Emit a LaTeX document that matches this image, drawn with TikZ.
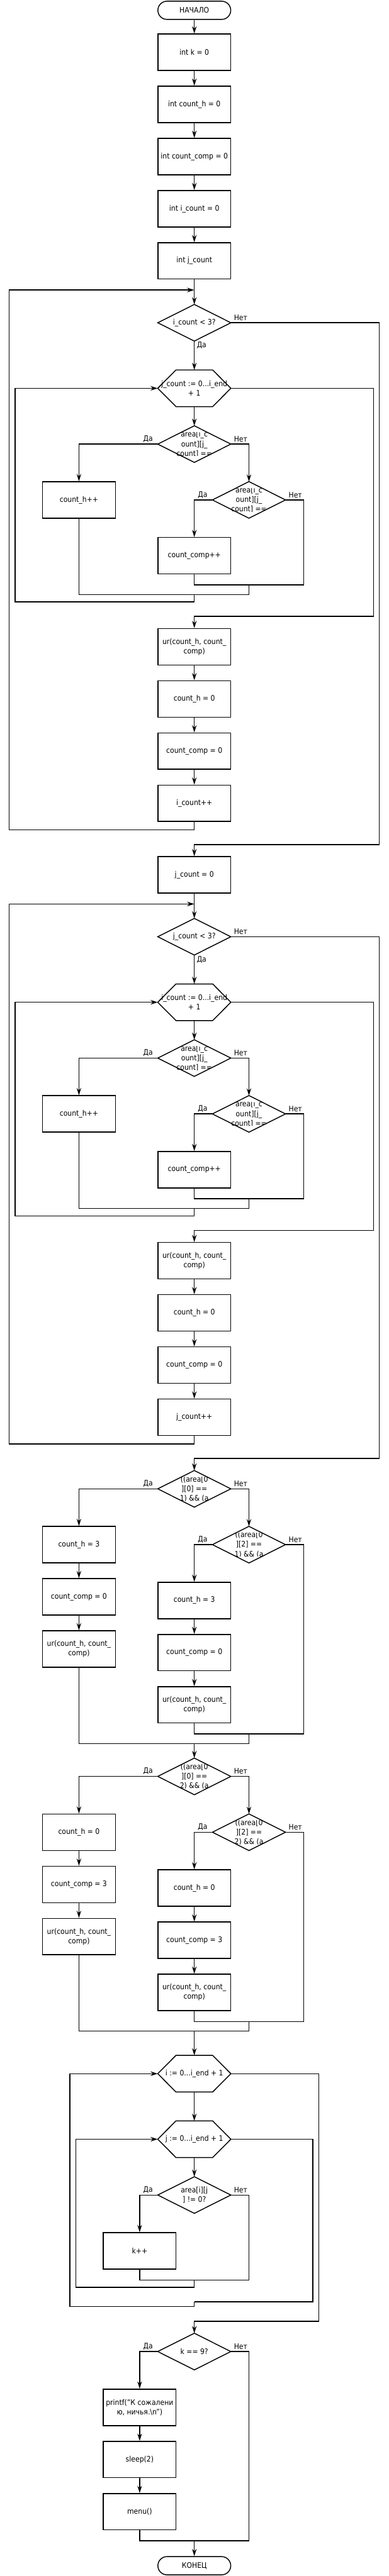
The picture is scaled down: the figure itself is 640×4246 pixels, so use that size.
\documentclass[tikz,border=0pt]{standalone}
\usepackage{fontspec}
\setmainfont{DejaVu Sans Condensed}
\usetikzlibrary{arrows.meta}
\tikzset{
  base/.style={font=\fontsize{12.5}{15.7}\selectfont, text=black},
  box/.style={base, draw, line width=1.5pt, minimum width=120pt, minimum height=60pt, inner sep=0pt, align=center},
  frame/.style={base, minimum width=120pt, minimum height=60pt, inner sep=0pt, align=center},
  term/.style={base, draw, line width=1.5pt, rounded corners=15pt, minimum width=120pt, minimum height=30pt, inner sep=0pt},
  shp/.style={line width=1.5pt},
  con/.style={line width=1.5pt},
  arr/.style={con, -{Stealth[length=12pt,width=7.5pt,inset=4pt]}},
  lbl/.style={base, inner sep=0pt},
}
\newcommand\dshape[1]{\draw[shp] (#1.west)--(#1.north)--(#1.east)--(#1.south)--cycle;}
\newcommand\hshape[1]{\draw[shp] (#1.west)--([xshift=30pt]#1.north west)--([xshift=-30pt]#1.north east)--(#1.east)--([xshift=-30pt]#1.south east)--([xshift=30pt]#1.south west)--cycle;}
\newcommand\cliptext[4]{%
  \begin{scope}
    \clip ([xshift=-48pt,yshift=19.5pt]#1.center) rectangle ([xshift=48pt,yshift=-19.5pt]#1.center);
    \node[lbl,anchor=base] (#1-a) at ([yshift=11.7pt]#1.center) {#2};
    \node[lbl,anchor=base] (#1-b) at ([yshift=-4pt]#1.center) {#3};
    \node[lbl,anchor=base] (#1-c) at ([yshift=-19.7pt]#1.center) {#4};
  \end{scope}}
\newcommand\yn[1]{%
  \node[lbl,anchor=base east] (#1y) at ([xshift=-8pt,yshift=5pt]#1.west) {Да};
  \node[lbl,anchor=base west] (#1n) at ([xshift=5pt,yshift=4pt]#1.east) {Нет};}
\newcommand\ynb[1]{%
  \node[lbl,anchor=base west] (#1y) at ([xshift=4pt,yshift=-11pt]#1.south) {Да};
  \node[lbl,anchor=base west] (#1n) at ([xshift=5pt,yshift=4pt]#1.east) {Нет};}
\begin{document}
\begin{tikzpicture}[x=1pt,y=-1pt]
\useasboundingbox (0,0) rectangle (640,4246);
% ---------- start ----------
\node[term] (start) at (320,17) {НАЧАЛО};
\node[box] (b1) at (320,86) {int k = 0};
\node[box] (b2) at (320,172) {int count\_h = 0};
\node[box] (b3) at (320,258) {int count\_comp = 0};
\node[box] (b4) at (320,344) {int i\_count = 0};
\node[box] (b5) at (320,430) {int j\_count};
\draw[arr] (start.south) -- (b1.north);
\draw[arr] (b1.south) -- (b2.north);
\draw[arr] (b2.south) -- (b3.north);
\draw[arr] (b3.south) -- (b4.north);
\draw[arr] (b4.south) -- (b5.north);
% ---------- block 1 ----------
\coordinate (c1) at (320,478);
\node[frame] (d1) at (320,532) {i\_count < 3?}; \dshape{d1} \ynb{d1}
\node[frame] (h1) at (320,640) {j\_count := 0...i\_end\\+ 1}; \hshape{h1}
\node[frame] (d2) at (320,732) {}; \cliptext{d2}{area[i\_c}{ount][j\_}{count] ==} \dshape{d2} \yn{d2}
\node[box] (b6) at (130,824) {count\_h++};
\node[frame] (d3) at (410,824) {}; \cliptext{d3}{area[i\_c}{ount][j\_}{count] ==} \dshape{d3} \yn{d3}
\node[box] (b7) at (320,916) {count\_comp++};
\node[box] (b8) at (320,1066) {ur(count\_h, count\_\\comp)};
\node[box] (b9) at (320,1152) {count\_h = 0};
\node[box] (b10) at (320,1238) {count\_comp = 0};
\node[box] (b11) at (320,1324) {i\_count++};
\coordinate (j1a) at (410,964);
\coordinate (j1b) at (410,980);
\coordinate (j1c) at (320,980);
\draw[arr] (b5.south) -- (d1.north);
\draw[arr] (d1.south) -- (h1.north);
\draw[arr] (h1.south) -- (d2.north);
\draw[arr] (d2.west) -| (b6.north);
\draw[arr] (d2.east) -| (d3.north);
\draw[arr] (d3.west) -| (b7.north);
\draw[con] (d3.east) -| (500,964) -| (b7.south);
\draw[con] (j1a) -- (j1b);
\draw[con] (b6.south) |- (j1b);
\draw[arr] (j1c) |- (25,992) |- (h1.west);
\draw[arr] (h1.east) -| (615,1016) -| (b8.north);
\draw[arr] (b8.south) -- (b9.north);
\draw[arr] (b9.south) -- (b10.north);
\draw[arr] (b10.south) -- (b11.north);
\draw[arr] (b11.south) |- (15,1368) |- (c1);
% ---------- block 2 ----------
\node[box] (b12) at (320,1442) {j\_count = 0};
\draw[arr] (d1.east) -| (624.5,1392) -| (b12.north);
\coordinate (c2) at (320,1490);
\node[frame] (d4) at (320,1544) {j\_count < 3?}; \dshape{d4} \ynb{d4}
\node[frame] (h2) at (320,1652) {i\_count := 0...i\_end\\+ 1}; \hshape{h2}
\node[frame] (d5) at (320,1744) {}; \cliptext{d5}{area[i\_c}{ount][j\_}{count] ==} \dshape{d5} \yn{d5}
\node[box] (b13) at (130,1836) {count\_h++};
\node[frame] (d6) at (410,1836) {}; \cliptext{d6}{area[i\_c}{ount][j\_}{count] ==} \dshape{d6} \yn{d6}
\node[box] (b14) at (320,1928) {count\_comp++};
\node[box] (b15) at (320,2078) {ur(count\_h, count\_\\comp)};
\node[box] (b16) at (320,2164) {count\_h = 0};
\node[box] (b17) at (320,2250) {count\_comp = 0};
\node[box] (b18) at (320,2336) {j\_count++};
\coordinate (j2a) at (410,1976);
\coordinate (j2b) at (410,1992);
\coordinate (j2c) at (320,1992);
\draw[arr] (b12.south) -- (d4.north);
\draw[arr] (d4.south) -- (h2.north);
\draw[arr] (h2.south) -- (d5.north);
\draw[arr] (d5.west) -| (b13.north);
\draw[arr] (d5.east) -| (d6.north);
\draw[arr] (d6.west) -| (b14.north);
\draw[con] (d6.east) -| (500,1976) -| (b14.south);
\draw[con] (j2a) -- (j2b);
\draw[con] (b13.south) |- (j2b);
\draw[arr] (j2c) |- (25,2004) |- (h2.west);
\draw[arr] (h2.east) -| (615,2028) -| (b15.north);
\draw[arr] (b15.south) -- (b16.north);
\draw[arr] (b16.south) -- (b17.north);
\draw[arr] (b17.south) -- (b18.north);
\draw[arr] (b18.south) |- (15,2380) |- (c2);
% ---------- block 3 ----------
\node[frame] (d7) at (320,2454) {}; \cliptext{d7}{((area[0}{][0] ==}{1) \&\& (a} \dshape{d7} \yn{d7}
\draw[arr] (d4.east) -| (624.5,2404) -| (d7.north);
\node[box] (b19) at (130,2546) {count\_h = 3};
\node[frame] (d8) at (410,2546) {}; \cliptext{d8}{((area[0}{][2] ==}{1) \&\& (a} \dshape{d8} \yn{d8}
\node[box] (b20) at (130,2632) {count\_comp = 0};
\node[box] (b21) at (130,2718) {ur(count\_h, count\_\\comp)};
\node[box] (b22) at (320,2638) {count\_h = 3};
\node[box] (b23) at (320,2724) {count\_comp = 0};
\node[box] (b24) at (320,2810) {ur(count\_h, count\_\\comp)};
\coordinate (j3a) at (410,2858);
\coordinate (j3b) at (410,2874);
\coordinate (j3c) at (320,2874);
\draw[arr] (d7.west) -| (b19.north);
\draw[arr] (d7.east) -| (d8.north);
\draw[arr] (b19.south) -- (b20.north);
\draw[arr] (b20.south) -- (b21.north);
\draw[arr] (d8.west) -| (b22.north);
\draw[arr] (b22.south) -- (b23.north);
\draw[arr] (b23.south) -- (b24.north);
\draw[con] (d8.east) -| (500,2858) -| (b24.south);
\draw[con] (j3a) -- (j3b);
\draw[con] (b21.south) |- (j3b);
% ---------- block 4 ----------
\node[frame] (d9) at (320,2928) {}; \cliptext{d9}{((area[0}{][0] ==}{2) \&\& (a} \dshape{d9} \yn{d9}
\draw[arr] (j3c) -- (d9.north);
\node[box] (b25) at (130,3020) {count\_h = 0};
\node[frame] (d10) at (410,3020) {}; \cliptext{d10}{((area[0}{][2] ==}{2) \&\& (a} \dshape{d10} \yn{d10}
\node[box] (b26) at (130,3106) {count\_comp = 3};
\node[box] (b27) at (130,3192) {ur(count\_h, count\_\\comp)};
\node[box] (b28) at (320,3112) {count\_h = 0};
\node[box] (b29) at (320,3198) {count\_comp = 3};
\node[box] (b30) at (320,3284) {ur(count\_h, count\_\\comp)};
\coordinate (j4a) at (410,3332);
\coordinate (j4b) at (410,3348);
\coordinate (j4c) at (320,3348);
\draw[arr] (d9.west) -| (b25.north);
\draw[arr] (d9.east) -| (d10.north);
\draw[arr] (b25.south) -- (b26.north);
\draw[arr] (b26.south) -- (b27.north);
\draw[arr] (d10.west) -| (b28.north);
\draw[arr] (b28.south) -- (b29.north);
\draw[arr] (b29.south) -- (b30.north);
\draw[con] (d10.east) -| (500,3332) -| (b30.south);
\draw[con] (j4a) -- (j4b);
\draw[con] (b27.south) |- (j4b);
% ---------- block 5 ----------
\node[frame] (h3) at (320,3418) {i := 0...i\_end + 1}; \hshape{h3}
\node[frame] (h4) at (320,3526) {j := 0...i\_end + 1}; \hshape{h4}
\node[frame] (d11) at (320,3618) {area[i][j\\] != 0?}; \dshape{d11} \yn{d11}
\node[box] (b31) at (230,3710) {k++};
\coordinate (j5a) at (320,3758);
\coordinate (j5b) at (320,3794);
\draw[arr] (j4c) -- (h3.north);
\draw[arr] (h3.south) -- (h4.north);
\draw[arr] (h4.south) -- (d11.north);
\draw[arr] (d11.west) -| (b31.north);
\draw[con] (d11.east) -| (410,3758) -| (b31.south);
\draw[arr] (j5a) |- (125,3770) |- (h4.west);
\draw[con] (h4.east) -| (515,3794) -- (j5b);
\draw[arr] (j5b) |- (115,3802) |- (h3.west);
% ---------- final ----------
\node[frame] (d12) at (320,3876) {k == 9?}; \dshape{d12} \yn{d12}
\draw[arr] (h3.east) -| (525,3826) -| (d12.north);
\node[box] (b32) at (230,3968) {printf("К сожалени\\ю, ничья.\textbackslash n")};
\node[box] (b33) at (230,4054) {sleep(2)};
\node[box] (b34) at (230,4140) {menu()};
\node[term] (end) at (320,4229) {КОНЕЦ};
\coordinate (j6) at (320,4188);
\draw[arr] (d12.west) -| (b32.north);
\draw[arr] (b32.south) -- (b33.north);
\draw[arr] (b33.south) -- (b34.north);
\draw[con] (d12.east) -| (410,4188) -| (b34.south);
\draw[arr] (j6) -- (end.north);
\end{tikzpicture}
\end{document}
